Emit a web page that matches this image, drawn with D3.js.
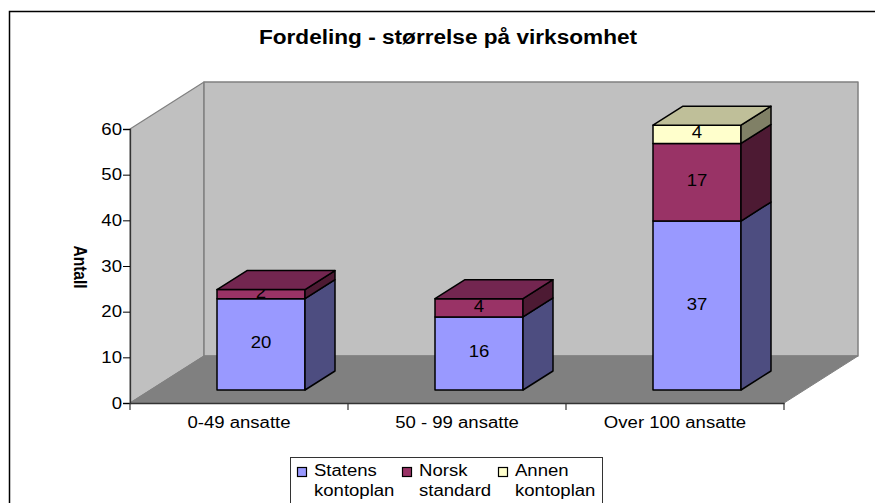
<!DOCTYPE html>
<html>
<head>
<meta charset="utf-8">
<script src="https://cdnjs.cloudflare.com/ajax/libs/d3/7.8.5/d3.min.js"></script>
<style>
  html, body { margin: 0; padding: 0; background: #fff; }
  svg { display: block; }
  text { font-family: "Liberation Sans", Arial, sans-serif; fill: #000; }
</style>
</head>
<body>
<div id="chart"></div>
<script>
"use strict";

var categories = ["0-49 ansatte", "50 - 99 ansatte", "Over 100 ansatte"];
var statens = [20, 16, 37];
var norsk = [2, 4, 17];
var annen = [0, 0, 4];
var yTicks = [0, 10, 20, 30, 40, 50, 60];
var seriesNames = [["Statens", "kontoplan"], ["Norsk", "standard"], ["Annen", "kontoplan"]];
var seriesValues = [statens, norsk, annen];
var faceColors = ["#9999ff", "#993366", "#ffffcc"];
var topColors = ["#7373bf", "#732650", "#bfbf99"];
var sideColors = ["#4d4d80", "#4d1a33", "#808066"];

var width = 875, height = 503;
var stretch = 1.16; // the original picture is wider than it is tall, text too
var svg = d3.select("#chart").append("svg").attr("width", width).attr("height", height);

// outer frame
svg.append("rect").attr("x", 9.5).attr("y", 11.5).attr("width", 880).attr("height", 520)
   .attr("fill", "#fff").attr("stroke", "#000").attr("stroke-width", 1.5);

function label(parent, x, y, txt, size, anchor, bold) {
  return parent.append("text")
    .attr("transform", "translate(" + x + "," + y + ") scale(" + stretch + ",1)")
    .attr("text-anchor", anchor || "start")
    .attr("font-size", size)
    .attr("font-weight", bold ? "bold" : "normal")
    .text(txt);
}

label(svg, 448, 44, "Fordeling - størrelse på virksomhet", 19.5, "middle", true);

// == SCALES ==
var xScale = d3.scaleBand().domain(categories).range([130, 784]);
var yScale = d3.scaleLinear().domain([0, 60]).range([403, 129]);
var depthX = 74, depthY = -47;
var x0 = xScale.range()[0], x1 = xScale.range()[1];
var y0 = yScale(0), yTop = yScale(60);

// == WALLS ==
function poly(points, fill, stroke, sw) {
  return svg.append("polygon").attr("points", points.map(function (p) { return p.join(","); }).join(" "))
    .attr("fill", fill).attr("stroke", stroke || "none").attr("stroke-width", sw || 1).attr("stroke-linejoin", "round");
}
poly([[x0, y0], [x0 + depthX, y0 + depthY], [x0 + depthX, yTop + depthY], [x0, yTop]], "#c0c0c0", "#808080", 1.2);
poly([[x0 + depthX, y0 + depthY], [x1 + depthX, y0 + depthY], [x1 + depthX, yTop + depthY], [x0 + depthX, yTop + depthY]], "#c0c0c0", "#808080", 1.5);
poly([[x0, y0], [x1, y0], [x1 + depthX, y0 + depthY], [x0 + depthX, y0 + depthY]], "#808080", "#808080", 1);

// == AXES ==
var yAxis = d3.axisLeft(yScale).tickValues(yTicks).tickSize(7).tickPadding(0);
var gy = svg.append("g").attr("transform", "translate(" + x0 + ",0)").call(yAxis);
var xAxis = d3.axisBottom(xScale).tickSize(0).tickPadding(14);
var gx = svg.append("g").attr("transform", "translate(0," + y0 + ")").call(xAxis);
gx.selectAll(".tick line").remove();
[gx, gy].forEach(function (g) {
  g.select(".domain").attr("stroke", "#333").attr("stroke-width", 1.3);
  g.selectAll("text").attr("font-size", 16).attr("font-family", '"Liberation Sans", Arial, sans-serif')
   .attr("fill", "#000").attr("transform", "scale(" + stretch + ",1)");
});
gy.selectAll("text").attr("x", -6.9);
// band separators
gx.selectAll(".sep").data(categories.concat([""])).enter().append("line")
  .attr("x1", function (d) { return d === "" ? x1 : xScale(d); })
  .attr("x2", function (d) { return d === "" ? x1 : xScale(d); })
  .attr("y1", 0).attr("y2", 7).attr("stroke", "#333").attr("stroke-width", 1.2);

svg.append("text").attr("transform", "translate(74,267) rotate(90) scale(1," + stretch + ")").attr("text-anchor", "middle")
   .attr("font-size", 15.5).attr("font-weight", "bold").text("Antall");

// == BARS ==
var barWidth = 88, barDx = 30, barDy = -19, liftX = 20, liftY = -13;
categories.forEach(function (cat, i) {
  var left = xScale(cat) + xScale.bandwidth() / 2 - barWidth / 2 + liftX + 2;
  var right = left + barWidth;
  var total = 0;
  var tops = [];
  seriesValues.forEach(function (vals, s) {
    var v = vals[i];
    if (v === 0) return;
    var yb = yScale(total) + liftY;
    total += v;
    var yt = yScale(total) + liftY;
    tops.push({ s: s, yt: yt });
    poly([[left, yb], [right, yb], [right, yt], [left, yt]], faceColors[s], "#000", 1.5);
    poly([[right, yb], [right + barDx, yb + barDy], [right + barDx, yt + barDy], [right, yt]], sideColors[s], "#000", 1.5);
    label(svg, (left + right) / 2, (yb + yt) / 2 + 4, v, 16, "middle");
  });
  var last = tops[tops.length - 1];
  poly([[left, last.yt], [right, last.yt], [right + barDx, last.yt + barDy], [left + barDx, last.yt + barDy]], topColors[last.s], "#000", 1.5);
});

// == LEGEND ==
var legend = svg.append("g");
legend.append("rect").attr("x", 290.5).attr("y", 457.5).attr("width", 312).attr("height", 60)
      .attr("fill", "#fff").attr("stroke", "#333").attr("stroke-width", 1);
var legendX = [297, 402, 498];
seriesNames.forEach(function (name, i) {
  var lx = legendX[i];
  legend.append("rect").attr("x", lx + 0.5).attr("y", 467.5).attr("width", 9).attr("height", 9)
        .attr("fill", faceColors[i]).attr("stroke", "#000").attr("stroke-width", 1.2);
  label(legend, lx + 17, 476, name[0], 16);
  label(legend, lx + 17, 496, name[1], 16);
});
</script>
</body>
</html>
